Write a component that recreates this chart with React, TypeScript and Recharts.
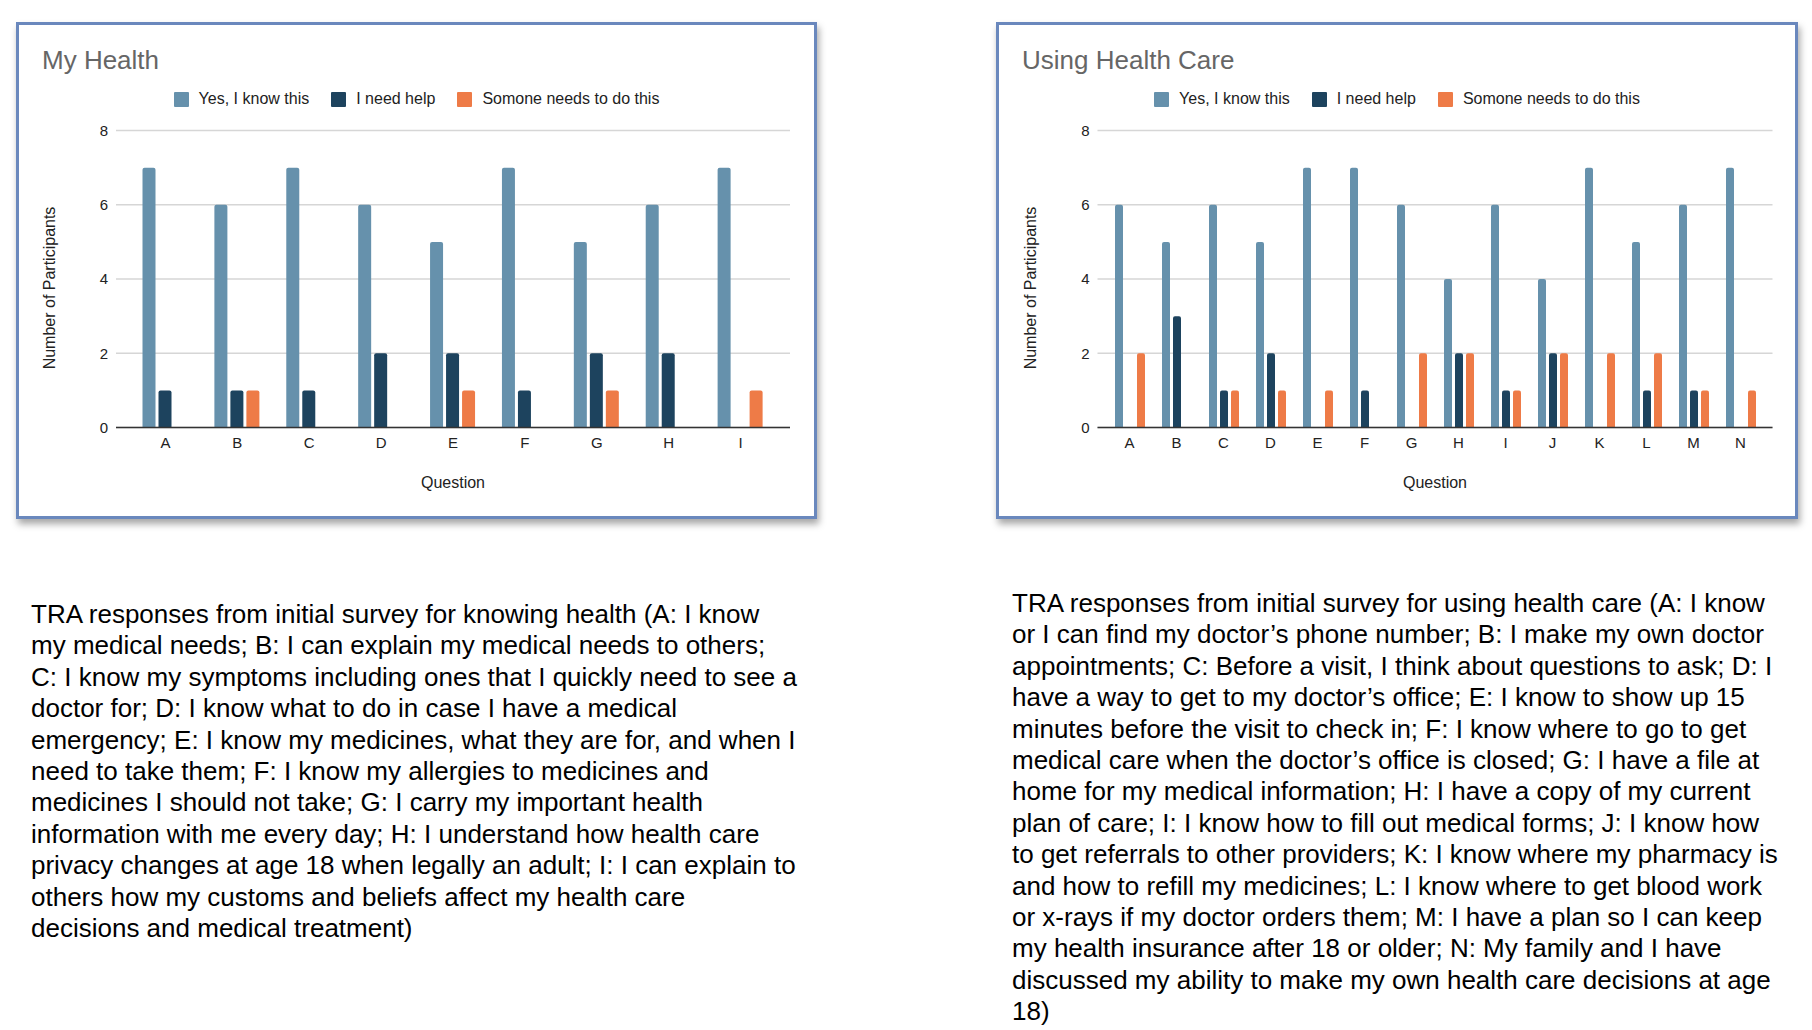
import { BarChart, Bar, XAxis, YAxis, CartesianGrid, Legend } from "recharts";

const FONT = "'Liberation Sans', Arial, Helvetica, sans-serif";

const seriesNames = ["Yes, I know this", "I need help", "Somone needs to do this"];
const yTicks = [0, 2, 4, 6, 8];

// My Health
const healthQuestions = ["A", "B", "C", "D", "E", "F", "G", "H", "I"];
const healthKnow = [7, 6, 7, 6, 5, 7, 5, 6, 7];
const healthHelp = [1, 1, 1, 2, 2, 1, 2, 2, 0];
const healthSomeone = [0, 1, 0, 0, 1, 0, 1, 0, 1];

// Using Health Care
const careQuestions = ["A", "B", "C", "D", "E", "F", "G", "H", "I", "J", "K", "L", "M", "N"];
const careKnow = [6, 5, 6, 5, 7, 7, 6, 4, 6, 4, 7, 5, 6, 7];
const careHelp = [0, 3, 1, 2, 0, 1, 0, 2, 1, 2, 0, 1, 1, 0];
const careSomeone = [2, 0, 1, 1, 1, 0, 2, 2, 1, 2, 2, 2, 1, 1];

const healthCaption = [
  "TRA responses from initial survey for knowing health (A: I know",
  "my medical needs; B: I can explain my medical needs to others;",
  "C: I know my symptoms including ones that I quickly need to see a",
  "doctor for; D: I know what to do in case I have a medical",
  "emergency; E: I know my medicines, what they are for, and when I",
  "need to take them; F: I know my allergies to medicines and",
  "medicines I should not take; G: I carry my important health",
  "information with me every day; H: I understand how health care",
  "privacy changes at age 18 when legally an adult; I: I can explain to",
  "others how my customs and beliefs affect my health care",
  "decisions and medical treatment)",
];

const careCaption = [
  "TRA responses from initial survey for using health care (A: I know",
  "or I can find my doctor\u2019s phone number; B: I make my own doctor",
  "appointments; C: Before a visit, I think about questions to ask; D: I",
  "have a way to get to my doctor\u2019s office; E: I know to show up 15",
  "minutes before the visit to check in; F: I know where to go to get",
  "medical care when the doctor\u2019s office is closed; G: I have a file at",
  "home for my medical information; H: I have a copy of my current",
  "plan of care; I: I know how to fill out medical forms; J: I know how",
  "to get referrals to other providers; K: I know where my pharmacy is",
  "and how to refill my medicines; L: I know where to get blood work",
  "or x-rays if my doctor orders them; M: I have a plan so I can keep",
  "my health insurance after 18 or older; N: My family and I have",
  "discussed my ability to make my own health care decisions at age",
  "18)",
];

const COLORS = { know: "#6691ac", help: "#1d435e", someone: "#ee7b47" };

/* eslint-disable @typescript-eslint/no-explicit-any */
function renderLegend(props: any) {
  // keep the series order, recharts sorts by name otherwise
  const items = [...(props.payload || [])].sort(
    (a: any, b: any) => seriesNames.indexOf(a.value) - seriesNames.indexOf(b.value)
  );
  return (
    <div
      style={{
        display: "flex",
        justifyContent: "center",
        alignItems: "center",
        height: 16,
        fontFamily: FONT,
        fontSize: 16,
        color: "#222",
      }}
    >
      {items.map((p: any, i: number) => (
        <div key={i} style={{ display: "flex", alignItems: "center", marginLeft: i ? 22 : 0 }}>
          <span
            style={{ display: "inline-block", width: 15, height: 15, background: p.color, borderRadius: 1, marginRight: 10 }}
          />
          <span style={{ whiteSpace: "nowrap" }}>{p.value}</span>
        </div>
      ))}
    </div>
  );
}

function renderYLabel(props: any) {
  const vb = props.viewBox || {};
  const x = vb.x - 7;
  const y = vb.y + vb.height / 2 + 9;
  return (
    <text
      x={x}
      y={y}
      transform={`rotate(-90, ${x}, ${y})`}
      textAnchor="middle"
      dominantBaseline="central"
      style={{ fontFamily: FONT, fontSize: 16, fill: "#222" }}
    >
      Number of Participants
    </text>
  );
}
/* eslint-enable @typescript-eslint/no-explicit-any */

interface PanelProps {
  left: number;
  width: number;
  title: string;
  questions: string[];
  know: number[];
  help: number[];
  someone: number[];
  marginLeft: number;
  marginRight: number;
  pad: number;
  barSize: number;
}

function SurveyPanel({ left, width, title, questions, know, help, someone, marginLeft, marginRight, pad, barSize }: PanelProps) {
  const data = questions.map((q, i) => ({ q, know: know[i], help: help[i], someone: someone[i] }));
  const inner = width - 6;
  const tick = { fontFamily: FONT, fontSize: 15, fill: "#222" };
  return (
    <div
      style={{
        position: "absolute",
        left,
        top: 22,
        width,
        height: 497,
        boxSizing: "border-box",
        border: "3px solid #6a88bd",
        boxShadow: "2px 5px 7px rgba(0,0,0,0.35)",
        background: "#fff",
      }}
    >
      <div
        style={{
          position: "absolute",
          left: 23,
          top: 22,
          fontFamily: FONT,
          fontSize: 26,
          lineHeight: "26px",
          color: "#666",
          whiteSpace: "nowrap",
        }}
      >
        {title}
      </div>
      <BarChart
        width={inner}
        height={491}
        data={data}
        margin={{ top: 105.5, right: marginRight, left: marginLeft, bottom: 28.5 }}
        barGap={3}
      >
        <CartesianGrid vertical={false} stroke="#d6d6d6" strokeWidth={1.5} />
        <XAxis
          dataKey="q"
          height={60}
          padding={{ left: pad, right: pad }}
          axisLine={{ stroke: "#333", strokeWidth: 1.5 }}
          tickLine={false}
          tickSize={0}
          tickMargin={10}
          tick={tick}
          label={{ value: "Question", position: "insideBottom", offset: 0, style: { fontFamily: FONT, fontSize: 16, fill: "#222" } }}
        />
        <YAxis
          width={60}
          domain={[0, 8]}
          ticks={yTicks}
          axisLine={false}
          tickLine={false}
          tickSize={0}
          tickMargin={8}
          tick={tick}
          label={{ content: renderYLabel }}
        />
        <Legend
          content={renderLegend}
          layout="horizontal"
          verticalAlign="middle"
          align="center"
          wrapperStyle={{ top: 66, left: 0, width: inner }}
        />
        <Bar dataKey="know" name={seriesNames[0]} fill={COLORS.know} barSize={barSize} radius={[2, 2, 0, 0]} isAnimationActive={false} />
        <Bar dataKey="help" name={seriesNames[1]} fill={COLORS.help} barSize={barSize} radius={[2, 2, 0, 0]} isAnimationActive={false} />
        <Bar dataKey="someone" name={seriesNames[2]} fill={COLORS.someone} barSize={barSize} radius={[2, 2, 0, 0]} isAnimationActive={false} />
      </BarChart>
    </div>
  );
}

function Caption({ left, top, lines }: { left: number; top: number; lines: string[] }) {
  return (
    <div
      style={{
        position: "absolute",
        left,
        top,
        fontFamily: FONT,
        fontSize: 26,
        lineHeight: "31.4px",
        color: "#000",
        whiteSpace: "pre",
      }}
    >
      {lines.map((l, i) => (
        <div key={i}>{l}</div>
      ))}
    </div>
  );
}

export default function App() {
  return (
    <div style={{ position: "relative", width: 1812, height: 1030, background: "#fff", overflow: "hidden" }}>
      <style>{`body { margin: 0; }`}</style>
      <SurveyPanel
        left={16}
        width={801}
        title="My Health"
        questions={healthQuestions}
        know={healthKnow}
        help={healthHelp}
        someone={healthSomeone}
        marginLeft={37}
        marginRight={24}
        pad={13.5}
        barSize={13}
      />
      <SurveyPanel
        left={996}
        width={802}
        title="Using Health Care"
        questions={careQuestions}
        know={careKnow}
        help={careHelp}
        someone={careSomeone}
        marginLeft={38.5}
        marginRight={22.5}
        pad={8.5}
        barSize={8}
      />
      <Caption left={31} top={599} lines={healthCaption} />
      <Caption left={1012} top={588} lines={careCaption} />
    </div>
  );
}
